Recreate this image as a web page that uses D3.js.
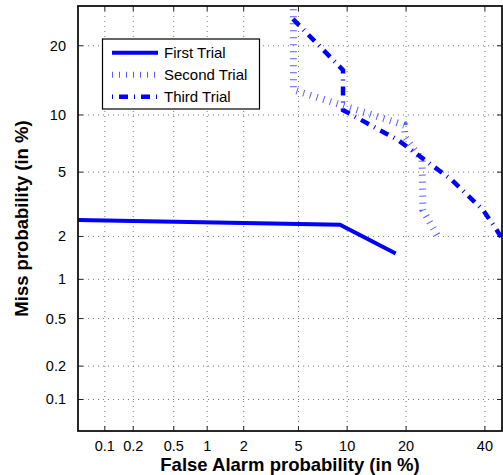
<!DOCTYPE html>
<html>
<head>
<meta charset="utf-8">
<script src="https://cdn.jsdelivr.net/npm/d3@7"></script>
<style>
  body { margin: 0; background: #fff; }
  text { font-family: "Liberation Sans", Arial, sans-serif; }
</style>
</head>
<body>
<div id="chart"></div>
<script>
const width = 503;
const height = 475;

// axis ticks (in %)
const xTicks = [0.1, 0.2, 0.5, 1, 2, 5, 10, 20, 40];
const yTicks = [0.1, 0.2, 0.5, 1, 2, 5, 10, 20];

// curves: [false alarm %, miss %]
const firstTrial = [[0.05, 2.56], [9.1, 2.39], [17.9, 1.53]];
const secondTrial = [[4.62, 40], [4.62, 13.1], [19.6, 8.92], [19.8, 7.75], [23.5, 5.84], [23.7, 2.96], [27.8, 1.89]];
const thirdTrial = [[4.59, 25.1], [9.47, 15.96], [9.47, 10.56], [18.35, 7.48], [30.9, 4.5], [39.5, 2.96], [43.5, 2.2], [46.2, 1.75]];

const legendNames = ["First Trial", "Second Trial", "Third Trial"];

// inverse normal CDF (Acklam)
function probit(p) {
    const a = [-3.969683028665376e+01, 2.209460984245205e+02, -2.759285104469687e+02, 1.383577518672690e+02, -3.066479806614716e+01, 2.506628277459239e+00];
    const b = [-5.447609879822406e+01, 1.615858368580409e+02, -1.556989798598866e+02, 6.680131188771972e+01, -1.328068155288572e+01];
    const c = [-7.784894002430293e-03, -3.223964580411365e-01, -2.400758277161838e+00, -2.549732539343734e+00, 4.374664141464968e+00, 2.938163982698783e+00];
    const d = [7.784695709041462e-03, 3.224671290700398e-01, 2.445134137142996e+00, 3.754408661907416e+00];
    const pl = 0.02425;
    let q, r;
    if (p < pl) {
        q = Math.sqrt(-2 * Math.log(p));
        return (((((c[0]*q+c[1])*q+c[2])*q+c[3])*q+c[4])*q+c[5]) / ((((d[0]*q+d[1])*q+d[2])*q+d[3])*q+1);
    } else if (p <= 1 - pl) {
        q = p - 0.5; r = q * q;
        return (((((a[0]*r+a[1])*r+a[2])*r+a[3])*r+a[4])*r+a[5])*q / (((((b[0]*r+b[1])*r+b[2])*r+b[3])*r+b[4])*r+1);
    } else {
        q = Math.sqrt(-2 * Math.log(1 - p));
        return -(((((c[0]*q+c[1])*q+c[2])*q+c[3])*q+c[4])*q+c[5]) / ((((d[0]*q+d[1])*q+d[2])*q+d[3])*q+1);
    }
}

const pLeft = 78, pRight = 502, pTop = 6, pBottom = 431;

const xLin = d3.scaleLinear().domain([probit(0.0005), probit(0.45)]).range([pLeft, pRight]);
const yLin = d3.scaleLinear().domain([probit(0.0005), probit(0.278)]).range([pBottom, pTop]);
const x = v => xLin(probit(v / 100));
const y = v => yLin(probit(v / 100));

const svg = d3.select("#chart")
              .append("svg")
              .attr("width", width)
              .attr("height", height);

svg.append("defs").append("clipPath")
   .attr("id", "clip")
   .append("rect")
   .attr("x", pLeft).attr("y", pTop)
   .attr("width", pRight - pLeft).attr("height", pBottom - pTop);

// grid
svg.append("g").selectAll("line")
   .data(xTicks).enter().append("line")
   .attr("x1", d => x(d)).attr("x2", d => x(d))
   .attr("y1", pTop).attr("y2", pBottom)
   .attr("stroke", "#777").attr("stroke-width", 1)
   .attr("stroke-dasharray", "1,4");

svg.append("g").selectAll("line")
   .data(yTicks).enter().append("line")
   .attr("y1", d => y(d)).attr("y2", d => y(d))
   .attr("x1", pLeft).attr("x2", pRight)
   .attr("stroke", "#777").attr("stroke-width", 1)
   .attr("stroke-dasharray", "1,4");

// inward tick marks
const tk = 5;
const ticksG = svg.append("g").attr("stroke", "#222").attr("stroke-width", 1);
xTicks.forEach(t => {
    ticksG.append("line").attr("x1", x(t)).attr("x2", x(t)).attr("y1", pBottom).attr("y2", pBottom - tk);
    ticksG.append("line").attr("x1", x(t)).attr("x2", x(t)).attr("y1", pTop).attr("y2", pTop + tk);
});
yTicks.forEach(t => {
    ticksG.append("line").attr("y1", y(t)).attr("y2", y(t)).attr("x1", pLeft).attr("x2", pLeft + tk);
    ticksG.append("line").attr("y1", y(t)).attr("y2", y(t)).attr("x1", pRight).attr("x2", pRight - tk);
});

// curves
const line = d3.line().x(d => x(d[0])).y(d => y(d[1]));
const curves = svg.append("g").attr("clip-path", "url(#clip)");

curves.append("path").datum(secondTrial)
      .attr("d", line).attr("fill", "none")
      .attr("stroke", "#3333ff").attr("stroke-opacity", 0.8)
      .attr("stroke-width", 7).attr("stroke-dasharray", "1,6");

curves.append("path").datum(thirdTrial)
      .attr("d", line).attr("fill", "none")
      .attr("stroke", "#0000ff").attr("stroke-width", 4.5)
      .attr("stroke-dasharray", "9,6,1,6");

curves.append("path").datum(firstTrial)
      .attr("d", line).attr("fill", "none")
      .attr("stroke", "#0000ff").attr("stroke-width", 4);

// box
svg.append("rect")
   .attr("x", pLeft).attr("y", pTop)
   .attr("width", pRight - pLeft).attr("height", pBottom - pTop)
   .attr("fill", "none").attr("stroke", "#111").attr("stroke-width", 1.8);

// tick labels
svg.append("g").selectAll("text")
   .data(xTicks).enter().append("text")
   .attr("x", d => x(d)).attr("y", 451)
   .attr("text-anchor", "middle")
   .attr("font-size", 14.5)
   .text(d => d);

svg.append("g").selectAll("text")
   .data(yTicks).enter().append("text")
   .attr("x", 66).attr("y", d => y(d) + 5)
   .attr("text-anchor", "end")
   .attr("font-size", 14.5)
   .text(d => d);

// axis titles
svg.append("text")
   .attr("x", (pLeft + pRight) / 2).attr("y", 471)
   .attr("text-anchor", "middle")
   .attr("font-size", 18.5).attr("font-weight", "bold")
   .text("False Alarm probability (in %)");

svg.append("text")
   .attr("transform", `translate(28, ${(pTop + pBottom) / 2}) rotate(-90)`)
   .attr("text-anchor", "middle")
   .attr("font-size", 18.5).attr("font-weight", "bold")
   .text("Miss probability (in %)");

// legend
const lg = svg.append("g");
lg.append("rect")
  .attr("x", 102.5).attr("y", 39).attr("width", 157).attr("height", 70)
  .attr("fill", "#fff").attr("stroke", "#000").attr("stroke-width", 1.2);

const legendStyles = [
    { color: "#0000ff", width: 4, dash: null, opacity: 1 },
    { color: "#3333ff", width: 6, dash: "1,6", opacity: 0.8 },
    { color: "#0000ff", width: 4.5, dash: "1,6,9,6", opacity: 1 }
];
legendNames.forEach((name, i) => {
    const ly = 52.7 + i * 22;
    const s = legendStyles[i];
    lg.append("line")
      .attr("x1", 112).attr("x2", 158).attr("y1", ly).attr("y2", ly)
      .attr("stroke", s.color).attr("stroke-width", s.width)
      .attr("stroke-opacity", s.opacity)
      .attr("stroke-dasharray", s.dash);
    lg.append("text")
      .attr("x", 164).attr("y", ly + 5.5)
      .attr("font-size", 15)
      .text(name);
});
</script>
</body>
</html>
